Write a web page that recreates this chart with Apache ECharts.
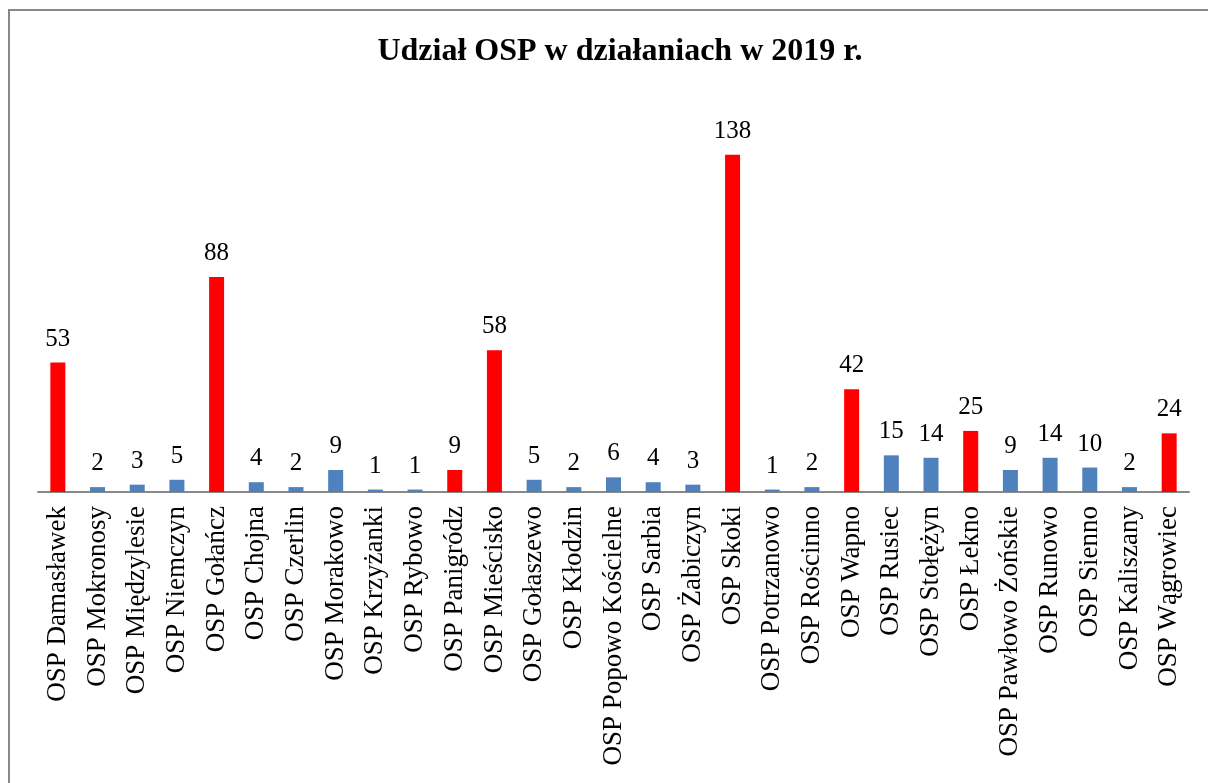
<!DOCTYPE html>
<html>
<head>
<meta charset="utf-8">
<script src="https://cdn.jsdelivr.net/npm/echarts@6/dist/echarts.min.js"></script>
<style>
html,body{margin:0;padding:0;background:#fff;}
#c{width:1208px;height:783px;}
</style>
</head>
<body>
<div id="c"></div>
<script>
const titleText = 'Udział OSP w działaniach w 2019 r.';
const categories = [
  'OSP Damasławek','OSP Mokronosy','OSP Międzylesie','OSP Niemczyn','OSP Gołańcz',
  'OSP Chojna','OSP Czerlin','OSP Morakowo','OSP Krzyżanki','OSP Rybowo',
  'OSP Panigródz','OSP Mieścisko','OSP Gołaszewo','OSP Kłodzin','OSP Popowo Kościelne',
  'OSP Sarbia','OSP Żabiczyn','OSP Skoki','OSP Potrzanowo','OSP Rościnno',
  'OSP Wapno','OSP Rusiec','OSP Stołężyn','OSP Łekno','OSP Pawłowo Żońskie',
  'OSP Runowo','OSP Sienno','OSP Kaliszany','OSP Wągrowiec'
];
const values = [53,2,3,5,88,4,2,9,1,1,9,58,5,2,6,4,3,138,1,2,42,15,14,25,9,14,10,2,24];
const highlightedUnits = ['OSP Damasławek','OSP Gołańcz','OSP Panigródz','OSP Mieścisko','OSP Skoki','OSP Wapno','OSP Łekno','OSP Wągrowiec'];

const font = 'Liberation Serif, Times New Roman, serif';
const chart = echarts.init(document.getElementById('c'), null, {renderer:'canvas'});
chart.setOption({
  backgroundColor:'#ffffff',
  animation:false,
  title:{
    text:titleText,
    left:615, top:31, textAlign:'center',
    textStyle:{fontFamily:font, fontSize:32, fontWeight:'bold', color:'#000'}
  },
  graphic:[{
    type:'rect', shape:{x:9, y:10, width:1400, height:1000},
    style:{fill:'none', stroke:'#888888', lineWidth:2}, silent:true, z:-1
  }],
  grid:{left:38, right:19, top:101, bottom:291, containLabel:false},
  xAxis:{
    type:'category', data:categories,
    axisLine:{show:true, lineStyle:{color:'#888888', width:2}},
    axisTick:{show:false},
    axisLabel:{rotate:90, interval:0, margin:14, fontFamily:font, fontSize:27, color:'#000'}
  },
  yAxis:{type:'value', min:0, max:160, show:false, splitLine:{show:false}},
  series:[{
    type:'bar', data:values, barWidth:15,
    itemStyle:{color:p => highlightedUnits.includes(categories[p.dataIndex]) ? '#FF0000' : '#4F81BD'},
    label:{show:true, position:'top', distance:11, fontFamily:font, fontSize:25, color:'#000'}
  }]
});
</script>
</body>
</html>
